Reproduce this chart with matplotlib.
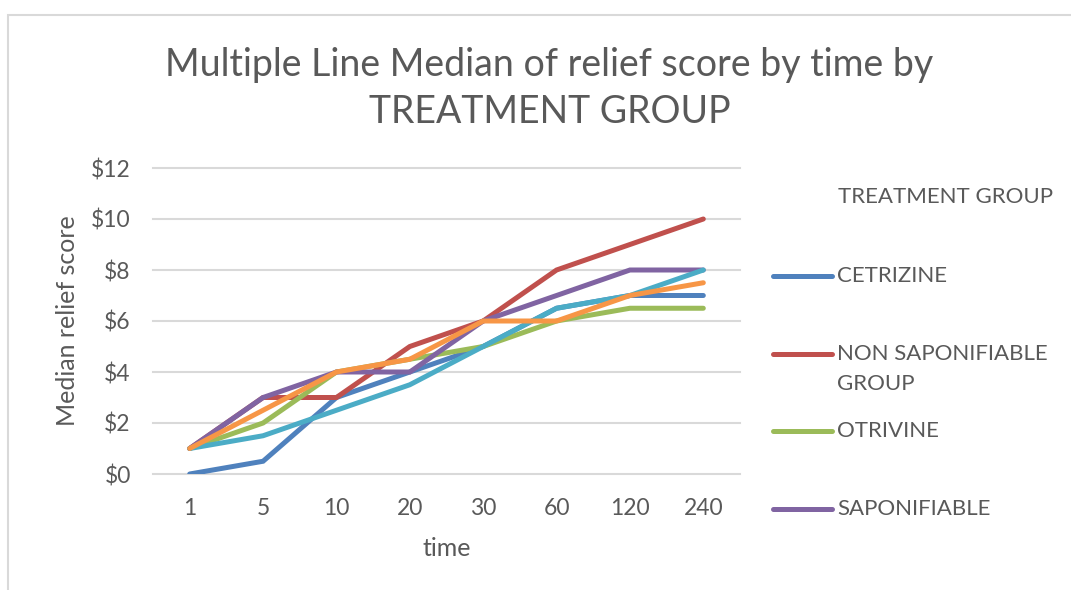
import matplotlib
matplotlib.use('Agg')
import matplotlib.pyplot as plt
from matplotlib.lines import Line2D
from matplotlib.patches import Rectangle

# data
times = ['1', '5', '10', '20', '30', '60', '120', '240']
cetrizine = [0, 0.5, 3, 4, 5, 6.5, 7, 7]
non_saponifiable = [1, 3, 3, 5, 6, 8, 9, 10]
otrivine = [1, 2, 4, 4.5, 5, 6, 6.5, 6.5]
saponifiable = [1, 3, 4, 4, 6, 7, 8, 8]
series5 = [1, 1.5, 2.5, 3.5, 5, 6.5, 7, 8]
series6 = [1, 2.5, 4, 4.5, 6, 6, 7, 7.5]

series = [
    ('CETRIZINE', cetrizine, '#4F81BD'),
    ('NON SAPONIFIABLE\nGROUP', non_saponifiable, '#C0504D'),
    ('OTRIVINE', otrivine, '#9BBB59'),
    ('SAPONIFIABLE', saponifiable, '#8064A2'),
    ('series 5', series5, '#4BACC6'),
    ('series 6', series6, '#F79646'),
]
shown_in_legend = 4  # the last two entries are cut off in the original

yticks = [0, 2, 4, 6, 8, 10, 12]
text_color = '#595959'
grid_color = '#D9D9D9'

plt.rcParams['font.family'] = ['Lato', 'DejaVu Sans']

W, H = 1071, 590
fig = plt.figure(figsize=(W / 100, H / 100), dpi=100)
ax = fig.add_axes([153 / W, 1 - 474 / H, 587 / W, 306 / H])

x = list(range(len(times)))
for name, vals, col in series:
    ax.plot(x, vals, color=col, linewidth=3.6, solid_capstyle='round',
            solid_joinstyle='miter', label=name)

ax.set_xlim(-0.5, len(times) - 0.5)
ax.set_ylim(0, 12)
ax.set_yticks(yticks)
ax.set_yticklabels(['$' + str(v) for v in yticks])
ax.set_xticks(x)
ax.set_xticklabels(times)
ax.tick_params(length=0, labelsize=16.5, colors=text_color)
ax.tick_params(axis='x', pad=17)
ax.tick_params(axis='y', pad=16)
for s in ax.spines.values():
    s.set_visible(False)
for v in yticks:
    ax.axhline(v, color=grid_color, linewidth=1.5, zorder=0, clip_on=False)

ax.set_xlabel('time', fontsize=18, color=text_color, labelpad=13)
ax.set_ylabel('Median relief score', fontsize=18, color=text_color, labelpad=9)

fig.text(549.5 / W, 1 - 88.5 / H, 'Multiple Line Median of relief score by time by\nTREATMENT GROUP',
         ha='center', va='center', multialignment='center', fontsize=27,
         color=text_color, linespacing=1.35)

# legend, drawn by hand so the two-line entry keeps the Excel spacing
fig.text(838 / W, 1 - 197 / H, 'TREATMENT GROUP', ha='left', va='center',
         fontsize=16, color=text_color)
for i, (name, vals, col) in enumerate(series[:shown_in_legend]):
    yy = 276 + i * 77.7
    fig.add_artist(Line2D([773 / W, 832 / W], [1 - yy / H, 1 - yy / H], color=col,
                          linewidth=3.6, solid_capstyle='round', transform=fig.transFigure))
    for k, part in enumerate(name.split('\n')):
        fig.text(837 / W, 1 - (yy + k * 30) / H, part, ha='left', va='center',
                 fontsize=16, color=text_color)

# chart frame
fig.add_artist(Rectangle((8 / W, -0.1), 1.2, 1.1 - 15 / H, transform=fig.transFigure,
                         fill=False, edgecolor=grid_color, linewidth=1.5))

fig.savefig('out.png', dpi=100)
